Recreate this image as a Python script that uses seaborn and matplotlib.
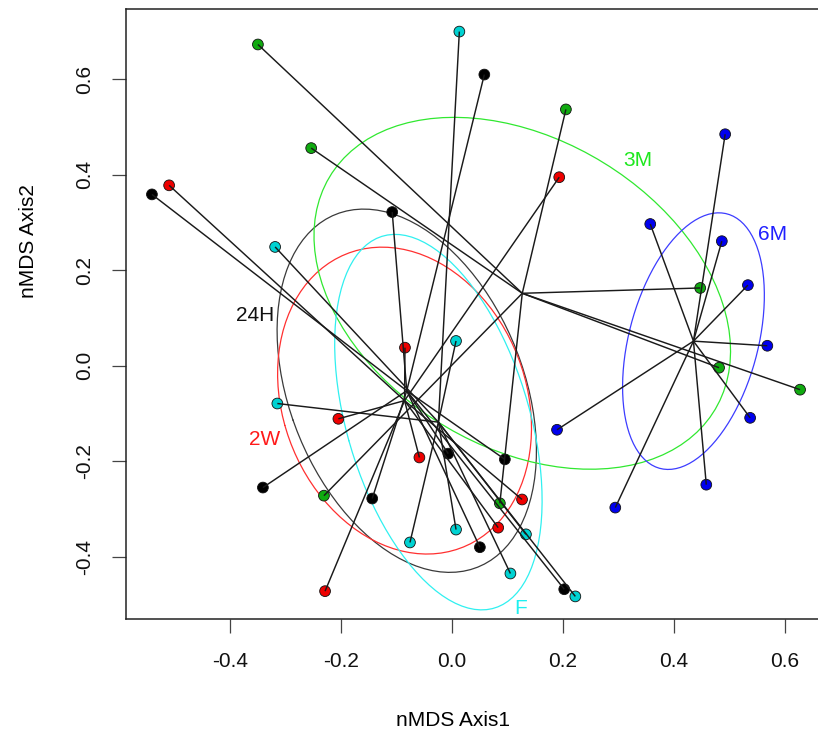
#!/usr/bin/env python3
"""
nMDS ordination of samples by time point: points, spider lines to the
group centroid and 1-sd covariance ellipses (vegan ordispider/ordiellipse look).

Output: out.png (818x738)
"""
import numpy as np
import pandas as pd
import matplotlib
matplotlib.use("Agg")
import matplotlib.pyplot as plt
import seaborn as sns

# nMDS scores, one pair of arrays per time point
x_24h = [0.058, -0.541, -0.108, -0.007, 0.095, -0.341, -0.144, 0.050, 0.202]
y_24h = [0.610, 0.359, 0.322, -0.184, -0.196, -0.255, -0.278, -0.380, -0.468]

x_2w = [-0.510, 0.193, -0.085, -0.205, -0.059, 0.126, 0.083, -0.229]
y_2w = [0.378, 0.395, 0.038, -0.111, -0.192, -0.280, -0.339, -0.472]

x_3m = [-0.350, -0.254, 0.205, 0.447, 0.481, 0.627, -0.231, 0.086]
y_3m = [0.673, 0.456, 0.537, 0.163, -0.004, -0.050, -0.272, -0.288]

x_6m = [0.492, 0.357, 0.486, 0.533, 0.568, 0.537, 0.189, 0.458, 0.294]
y_6m = [0.485, 0.297, 0.261, 0.169, 0.042, -0.109, -0.134, -0.249, -0.297]

x_f = [0.013, -0.319, 0.007, -0.315, -0.076, 0.007, 0.133, 0.105, 0.222]
y_f = [0.700, 0.249, 0.052, -0.079, -0.370, -0.343, -0.353, -0.435, -0.483]

groups = ["24H", "2W", "3M", "6M", "F"]
ticks = [-0.4, -0.2, 0.0, 0.2, 0.4, 0.6]


def build_frame() -> pd.DataFrame:
    parts = []
    for g, xs, ys in zip(groups, [x_24h, x_2w, x_3m, x_6m, x_f],
                         [y_24h, y_2w, y_3m, y_6m, y_f]):
        parts.append(pd.DataFrame({"axis1": xs, "axis2": ys, "group": g}))
    return pd.concat(parts, ignore_index=True)


def cov_ellipse(x, y, n=100):
    # same as vegan's kind="sd" without conf: centre + chol(cov) * unit circle
    xy = np.column_stack([x, y])
    centre = xy.mean(axis=0)
    vals, vecs = np.linalg.eigh(np.cov(xy.T))
    t = np.linspace(0, 2 * np.pi, n)
    circle = np.column_stack([np.cos(t), np.sin(t)])
    return centre + circle @ (vecs * np.sqrt(vals)).T


def main():
    df = build_frame()

    sns.set_style("ticks")
    plt.rcParams["font.family"] = ["Liberation Sans", "DejaVu Sans"]
    plt.rcParams["text.color"] = "black"
    plt.rcParams["axes.labelcolor"] = "black"

    point_fill = {"24H": "#000000", "2W": "#ee0000", "3M": "#10aa10",
                  "6M": "#0000ee", "F": "#00d2d2"}
    ring_col = {"24H": "#3a3a3a", "2W": "#ff3030", "3M": "#30e830",
                "6M": "#3c3cff", "F": "#30f0f0"}
    text_col = {"24H": "#111111", "2W": "#ff1a1a", "3M": "#1ee81e",
                "6M": "#2020ff", "F": "#1ef0f0"}
    # where the group names were typed on the plot (data coords)
    label_at = {"24H": (-0.355, 0.105), "2W": (-0.338, -0.155),
                "3M": (0.335, 0.430), "6M": (0.578, 0.275), "F": (0.124, -0.508)}

    fig = plt.figure(figsize=(8.18, 7.38), dpi=100)
    ax = fig.add_axes([126 / 818, 119 / 738, 700 / 818, 610 / 738])

    # R-style 4% padding around the points
    for col, setter in (("axis1", ax.set_xlim), ("axis2", ax.set_ylim)):
        lo, hi = df[col].min(), df[col].max()
        pad = 0.04 * (hi - lo)
        setter(lo - pad, hi + pad)

    for g in groups:
        sub = df[df["group"] == g]
        e = cov_ellipse(sub["axis1"], sub["axis2"])
        ax.plot(e[:, 0], e[:, 1], color=ring_col[g], lw=0.9, zorder=1)

    sns.scatterplot(data=df, x="axis1", y="axis2", hue="group", palette=point_fill,
                    s=60, edgecolor="#111111", linewidth=0.6, legend=False,
                    ax=ax, zorder=2)

    # spider: centroid to each sample
    for g in groups:
        sub = df[df["group"] == g]
        cx, cy = sub["axis1"].mean(), sub["axis2"].mean()
        for x, y in zip(sub["axis1"], sub["axis2"]):
            ax.plot([cx, x], [cy, y], color="#1a1a1a", lw=1.05, zorder=3,
                    solid_capstyle="butt")

    for g in groups:
        tx, ty = label_at[g]
        ax.text(tx, ty, g, color=text_col[g], fontsize=15, ha="center", va="center")

    ax.set_xticks(ticks)
    ax.set_yticks(ticks)
    ax.set_xticklabels([f"{t:.1f}" for t in ticks])
    ax.set_yticklabels([f"{t:.1f}" for t in ticks], rotation=90, va="center")
    ax.tick_params(axis="both", length=10, width=0.9, color="#444444",
                   labelsize=15, labelcolor="#111111")
    ax.tick_params(axis="x", pad=14)
    ax.tick_params(axis="y", pad=13)
    for sp in ax.spines.values():
        sp.set_color("#222222")
        sp.set_linewidth(1.1)

    ax.set_xlabel("nMDS Axis1", fontsize=15)
    ax.set_ylabel("nMDS Axis2", fontsize=15)
    ax.xaxis.set_label_coords((453 - 126) / 700, (619 - 711) / 610)
    ax.yaxis.set_label_coords((38 - 126) / 700, (619 - 241) / 610)

    fig.savefig("out.png", dpi=100)
    plt.close(fig)


if __name__ == "__main__":
    main()
